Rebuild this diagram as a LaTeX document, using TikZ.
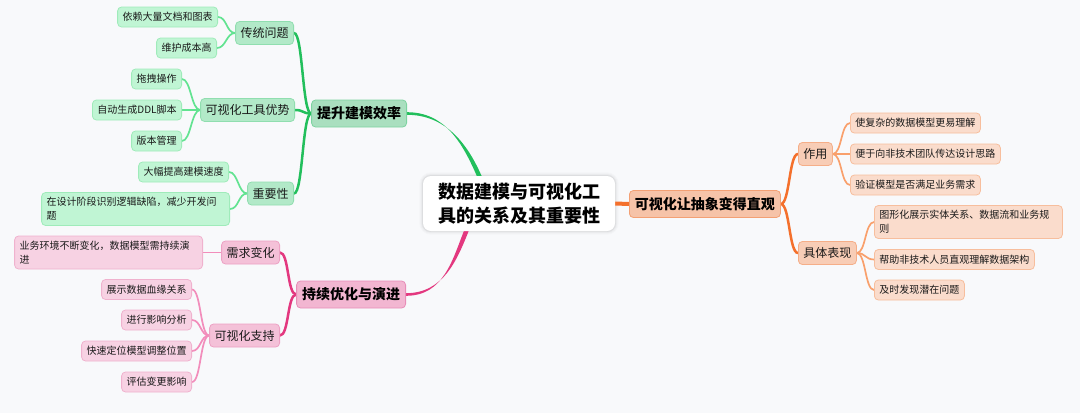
\documentclass[tikz,border=0pt]{standalone}
\usepackage{fontspec}
\setmainfont{Noto Sans CJK SC}
\pgfdeclarelayer{background}
\pgfsetlayers{background,main}
\definecolor{bg}{HTML}{F8F9FB}
\definecolor{txt}{HTML}{1A1A1A}
% green
\definecolor{gMF}{HTML}{A9DFBF}\definecolor{gMD}{HTML}{7DD3A0}
\definecolor{gSF}{HTML}{B2E9C8}\definecolor{gSD}{HTML}{90DEAF}
\definecolor{gLF}{HTML}{C0F5D4}\definecolor{gLD}{HTML}{9FEBBA}
\definecolor{gLine}{HTML}{22BF5C}\definecolor{gLeaf}{HTML}{62E391}
% pink
\definecolor{pMF}{HTML}{F2B6D1}\definecolor{pMD}{HTML}{E88DB8}
\definecolor{pSF}{HTML}{F4C1D8}\definecolor{pSD}{HTML}{EDA1C4}
\definecolor{pLF}{HTML}{F7D2E3}\definecolor{pLD}{HTML}{F0B2CE}
\definecolor{pLine}{HTML}{E3387F}\definecolor{pLeaf}{HTML}{F28DBB}
% orange
\definecolor{oMF}{HTML}{F6C3A8}\definecolor{oMD}{HTML}{F3A074}
\definecolor{oSF}{HTML}{F8CDB6}\definecolor{oSD}{HTML}{F5AE88}
\definecolor{oLF}{HTML}{FADCCC}\definecolor{oLD}{HTML}{F7BE9D}
\definecolor{oLine}{HTML}{F4702C}\definecolor{oLeaf}{HTML}{F9A06C}
\newcommand\mmL[3]{\draw[#1] (#2.west) .. controls +(-9,0) and +(9,0) .. (#3.east);}
\newcommand\mmR[3]{\draw[#1] (#2.east) .. controls +(9,0) and +(-9,0) .. (#3.west);}
\begin{document}
\begin{tikzpicture}[x=1pt,y=-1pt,
  base/.style={rounded corners=4pt, draw, line width=0.8pt, align=left, inner ysep=2pt, text=txt},
  cbox/.style={rounded corners=8pt, fill=white, align=center, inner xsep=15pt,
     minimum height=55pt, minimum width=192pt, text=black,
     font=\fontsize{18}{24}\selectfont\bfseries},
  mainb/.style={base, font=\fontsize{14}{17}\selectfont\bfseries, inner xsep=5.5pt, minimum height=27pt, text=black},
  subb/.style={base, font=\fontsize{12}{15}\selectfont, inner xsep=5pt, minimum height=23pt},
  leafb/.style={base, font=\fontsize{10}{14}\selectfont, inner xsep=5pt, minimum height=20pt},
  twol/.style={text width=178pt, minimum height=33pt},
  gm/.style={fill=gMF, draw=gMD}, gs/.style={fill=gSF, draw=gSD}, gl/.style={fill=gLF, draw=gLD},
  pm/.style={fill=pMF, draw=pMD}, ps/.style={fill=pSF, draw=pSD}, pl/.style={fill=pLF, draw=pLD},
  om/.style={fill=oMF, draw=oMD}, os/.style={fill=oSF, draw=oSD}, ol/.style={fill=oLF, draw=oLD},
  trunk/.style={line width=4pt, line cap=round},
  limb/.style={line width=2.5pt, line cap=round},
  twig/.style={line width=1.7pt, line cap=round},
]
\useasboundingbox (0,0) rectangle (1080,413);

% center
\node[cbox] (c) at (519,203.5) {数据建模与可视化工\\具的关系及其重要性};

% green branch
\node[mainb,gm,anchor=east] (g) at (407,113.5) {提升建模效率};
\node[subb,gs,anchor=east] (g1) at (294,33) {传统问题};
\node[subb,gs,anchor=east] (g2) at (295,110) {可视化工具优势};
\node[subb,gs,anchor=east] (g3) at (294,193.5) {重要性};
\node[leafb,gl,anchor=east] (g11) at (218,17) {依赖大量文档和图表};
\node[leafb,gl,anchor=east] (g12) at (217,48) {维护成本高};
\node[leafb,gl,anchor=east] (g21) at (182,79) {拖拽操作};
\node[leafb,gl,anchor=east] (g22) at (182,110) {自动生成DDL脚本};
\node[leafb,gl,anchor=east] (g23) at (182,141) {版本管理};
\node[leafb,gl,anchor=east] (g31) at (229,172) {大幅提高建模速度};
\node[leafb,gl,twol,anchor=east] (g32) at (230,209) {在设计阶段识别逻辑缺陷，减少开发问\\题};

% pink branch
\node[mainb,pm,anchor=east] (p) at (406,294.5) {持续优化与演进};
\node[subb,ps,anchor=east] (p1) at (280,252.5) {需求变化};
\node[subb,ps,anchor=east] (p2) at (280,335.5) {可视化支持};
\node[leafb,pl,twol,anchor=east] (p11) at (203,252.5) {业务环境不断变化，数据模型需持续演\\进};
\node[leafb,pl,anchor=east] (p21) at (192,289.5) {展示数据血缘关系};
\node[leafb,pl,anchor=east] (p22) at (192,320) {进行影响分析};
\node[leafb,pl,anchor=east] (p23) at (192,351) {快速定位模型调整位置};
\node[leafb,pl,anchor=east] (p24) at (192,382) {评估变更影响};

% orange branch
\node[mainb,om,anchor=west] (o) at (629,204) {可视化让抽象变得直观};
\node[subb,os,anchor=west] (o1) at (798,154) {作用};
\node[subb,os,anchor=west] (o2) at (798,253) {具体表现};
\node[leafb,ol,anchor=west] (o11) at (850,123) {使复杂的数据模型更易理解};
\node[leafb,ol,anchor=west] (o12) at (850,154) {便于向非技术团队传达设计思路};
\node[leafb,ol,anchor=west] (o13) at (850,185) {验证模型是否满足业务需求};
\node[leafb,ol,twol,anchor=west] (o21) at (874,222) {图形化展示实体关系、数据流和业务规\\则};
\node[leafb,ol,anchor=west] (o22) at (874,259.5) {帮助非技术人员直观理解数据架构};
\node[leafb,ol,anchor=west] (o23) at (874,290) {及时发现潜在问题};

\coordinate (cg) at ([xshift=-39pt,yshift=-2pt]c.north);
\coordinate (cp) at ([xshift=-52pt,yshift=2pt]c.south);

\begin{pgfonlayer}{background}
\fill[bg] (0,0) rectangle (1080,413);
% soft glow around the central topic
\foreach \w/\o in {7/0.015,5/0.02,3/0.03,1.5/0.04}
  \draw[black, opacity=\o, line width=\w pt, rounded corners=8pt]
    (c.north west) rectangle (c.south east);
% trunks (tapered)
\fill[gLine] ([xshift=-2.4pt]cg) .. controls +(-15,-35) and +(38,0) .. ([yshift=1.3pt]g.east)
   -- ([yshift=-1.3pt]g.east) .. controls +(38,0) and +(-15,-35) .. ([xshift=2.4pt]cg) -- cycle;
\fill[pLine] ([xshift=-2.4pt]cp) .. controls +(-12,30) and +(38,0) .. ([yshift=-1.3pt]p.east)
   -- ([yshift=1.3pt]p.east) .. controls +(38,0) and +(-12,30) .. ([xshift=2.4pt]cp) -- cycle;
\draw[trunk,oLine] (c.east) -- (o.west);
% limbs
\mmL{limb,gLine}{g}{g1}
\mmL{limb,gLine}{g}{g2}
\mmL{limb,gLine}{g}{g3}
\mmL{limb,pLine}{p}{p1}
\mmL{limb,pLine}{p}{p2}
\mmR{limb,oLine}{o}{o1}
\mmR{limb,oLine}{o}{o2}
% twigs
\mmL{twig,gLeaf}{g1}{g11}
\mmL{twig,gLeaf}{g1}{g12}
\mmL{twig,gLeaf}{g2}{g21}
\mmL{twig,gLeaf}{g2}{g22}
\mmL{twig,gLeaf}{g2}{g23}
\mmL{twig,gLeaf}{g3}{g31}
\mmL{twig,gLeaf}{g3}{g32}
\mmL{twig,pLeaf}{p1}{p11}
\mmL{twig,pLeaf}{p2}{p21}
\mmL{twig,pLeaf}{p2}{p22}
\mmL{twig,pLeaf}{p2}{p23}
\mmL{twig,pLeaf}{p2}{p24}
\mmR{twig,oLeaf}{o1}{o11}
\mmR{twig,oLeaf}{o1}{o12}
\mmR{twig,oLeaf}{o1}{o13}
\mmR{twig,oLeaf}{o2}{o21}
\mmR{twig,oLeaf}{o2}{o22}
\mmR{twig,oLeaf}{o2}{o23}
\end{pgfonlayer}
\end{tikzpicture}
\end{document}
